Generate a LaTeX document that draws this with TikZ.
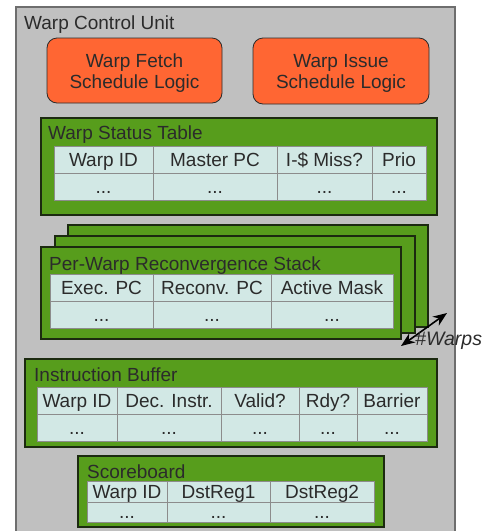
\documentclass[tikz,border=0pt]{standalone}
\usepackage{fontspec}
\setmainfont{Liberation Sans}
\usetikzlibrary{arrows.meta}
\definecolor{unitgray}{HTML}{C0C0C0}
\definecolor{unitedge}{HTML}{6E6E6E}
\definecolor{logicorange}{HTML}{FF6633}
\definecolor{tablegreen}{HTML}{579D1C}
\definecolor{greenedge}{HTML}{1C2A10}
\definecolor{cellfill}{HTML}{D2E8E5}
\definecolor{celledge}{HTML}{8C8C8C}
\definecolor{ink}{HTML}{2B2B2B}
\begin{document}
\begin{tikzpicture}[x=1pt,y=-1pt,
  every node/.style={font=\fontsize{19}{21}\selectfont, text=ink},
  unitbox/.style={draw=unitedge, line width=1.6pt, fill=unitgray},
  logicbox/.style={draw=ink, line width=0.8pt, fill=logicorange, rounded corners=10pt},
  greenbox/.style={draw=greenedge, line width=1.2pt, fill=tablegreen},
  title/.style={anchor=base west, inner sep=0pt},
  cell/.style={draw=celledge, line width=1pt, fill=cellfill, inner sep=0pt,
    text height=14pt, text depth=1pt, minimum height=27pt},
  smallcell/.style={cell, minimum height=21pt},
  countarrow/.style={line width=1.6pt, {Stealth[length=14pt,width=11pt]}-{Stealth[length=14pt,width=11pt]}}
]
\useasboundingbox (0,0) rectangle (488,531);
\begin{scope}
\clip (0,0) rectangle (488,531);

% enclosing unit
\draw[unitbox] (16,7) rectangle (455,545);
\node[title] (unit) at (24,29) {Warp Control Unit};

% scheduling logic
\draw[logicbox] (47,38) rectangle (222,103);
\node[align=center, inner sep=0pt] (fetch) at (134.5,73) {Warp Fetch\\Schedule Logic};
\draw[logicbox] (253,38) rectangle (429,104);
\node[align=center, inner sep=0pt] (issue) at (341,73) {Warp Issue\\Schedule Logic};

% warp status table
\draw[greenbox] (41,118) rectangle (437,215);
\node[title] (wst) at (48,139) {Warp Status Table};
\node[cell, minimum width=99pt]  (wst-a) at (103.5,159.5) {Warp ID};
\node[cell, minimum width=124pt] (wst-b) at (215,159.5) {Master PC};
\node[cell, minimum width=95pt]  (wst-c) at (324.5,159.5) {I-\$ Miss?};
\node[cell, minimum width=54pt]  (wst-d) at (399,159.5) {Prio};
\node[cell, minimum width=99pt]  (wst-e) at (103.5,186.5) {...};
\node[cell, minimum width=124pt] (wst-f) at (215,186.5) {...};
\node[cell, minimum width=95pt]  (wst-g) at (324.5,186.5) {...};
\node[cell, minimum width=54pt]  (wst-h) at (399,186.5) {...};

% per-warp reconvergence stacks
\draw[greenbox] (68,225) rectangle (428,327);
\draw[greenbox] (55,236) rectangle (415,333);
\draw[greenbox] (41,247) rectangle (401,339);
\node[title] (rs) at (49,270) {Per-Warp Reconvergence Stack};
\node[cell, minimum width=103pt] (rs-a) at (101.5,287.5) {Exec. PC};
\node[cell, minimum width=118pt] (rs-b) at (212,287.5) {Reconv. PC};
\node[cell, minimum width=122pt] (rs-c) at (332,287.5) {Active Mask};
\node[cell, minimum width=103pt] (rs-d) at (101.5,314.5) {...};
\node[cell, minimum width=118pt] (rs-e) at (212,314.5) {...};
\node[cell, minimum width=122pt] (rs-f) at (332,314.5) {...};

% number of warps
\coordinate (wlo) at (401,346);
\coordinate (whi) at (447,313);
\draw[countarrow] (wlo) -- (whi);
\node[title, font=\fontsize{19.5}{21}\selectfont\itshape] (nw) at (415,345) {\#Warps};

% instruction buffer
\draw[greenbox] (25,359) rectangle (437,447);
\node[title] (ib) at (34,381) {Instruction Buffer};
\node[cell, minimum width=80pt]  (ib-a) at (77,400.5) {Warp ID};
\node[cell, minimum width=104pt] (ib-b) at (169,400.5) {Dec. Instr.};
\node[cell, minimum width=78pt]  (ib-c) at (260,400.5) {Valid?};
\node[cell, minimum width=58pt]  (ib-d) at (328,400.5) {Rdy?};
\node[cell, minimum width=70pt]  (ib-e) at (392,400.5) {Barrier};
\node[cell, minimum width=80pt]  (ib-f) at (77,427.5) {...};
\node[cell, minimum width=104pt] (ib-g) at (169,427.5) {...};
\node[cell, minimum width=78pt]  (ib-h) at (260,427.5) {...};
\node[cell, minimum width=58pt]  (ib-i) at (328,427.5) {...};
\node[cell, minimum width=70pt]  (ib-j) at (392,427.5) {...};

% scoreboard
\draw[greenbox] (78,456) rectangle (384,527);
\node[title] (sb) at (87,478) {Scoreboard};
\node[smallcell, minimum width=80pt]  (sb-a) at (127,491.5) {Warp ID};
\node[smallcell, minimum width=103pt] (sb-b) at (218.5,491.5) {DstReg1};
\node[smallcell, minimum width=104pt] (sb-c) at (322,491.5) {DstReg2};
\node[smallcell, minimum height=20pt, minimum width=80pt]  (sb-d) at (127,512) {...};
\node[smallcell, minimum height=20pt, minimum width=103pt] (sb-e) at (218.5,512) {...};
\node[smallcell, minimum height=20pt, minimum width=104pt] (sb-f) at (322,512) {...};
\end{scope}
\end{tikzpicture}
\end{document}
